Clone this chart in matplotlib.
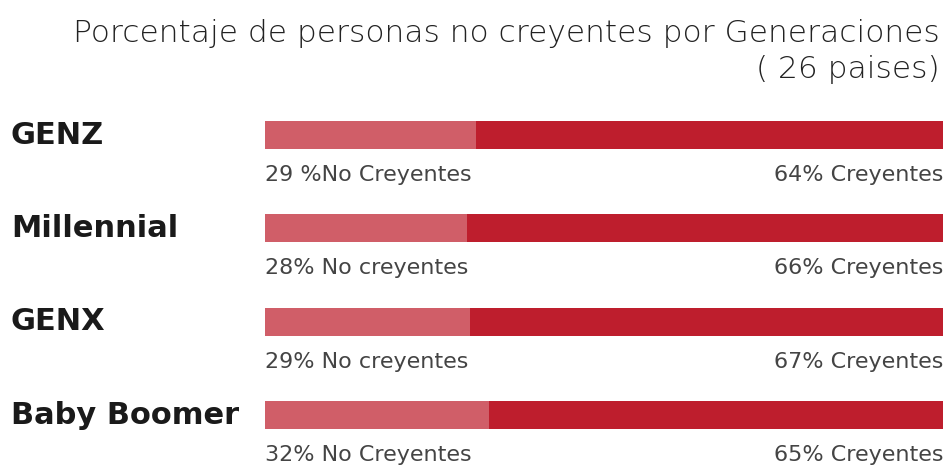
import matplotlib
matplotlib.use('Agg')
import matplotlib.pyplot as plt
import matplotlib.transforms as mtransforms

generaciones = ['GENZ', 'Millennial', 'GENX', 'Baby Boomer']
no_creyentes = [29, 28, 29, 32]
creyentes = [64, 66, 67, 65]
etiquetas_no = ['29 %No Creyentes', '28% No creyentes', '29% No creyentes', '32% No Creyentes']
etiquetas_si = ['64% Creyentes', '66% Creyentes', '67% Creyentes', '65% Creyentes']

color_no = '#D05E68'
color_si = '#BE1E2D'

fig = plt.figure(figsize=(9.48, 4.69), dpi=100)
ax = fig.add_axes([265 / 948, 0.0156, 678 / 948, 0.796])

for i, (n, c) in enumerate(zip(no_creyentes, creyentes)):
    total = n + c
    ax.barh(i, n / total, left=0, height=0.30, color=color_no)
    ax.barh(i, c / total, left=n / total, height=0.30, color=color_si)
    ax.text(0, i + 0.43, etiquetas_no[i], ha='left', va='center',
            fontsize=16, color='#444444', family='DejaVu Sans')
    ax.text(1, i + 0.43, etiquetas_si[i], ha='right', va='center',
            fontsize=16, color='#444444', family='DejaVu Sans')

trans = mtransforms.blended_transform_factory(fig.transFigure, ax.transData)
for i, g in enumerate(generaciones):
    ax.text(11 / 948, i, g, transform=trans, ha='left', va='center',
            fontsize=22, fontweight='bold', color='#1a1a1a', family='DejaVu Sans')

ax.set_xlim(0, 1)
ax.set_ylim(3.5, -0.5)
ax.axis('off')

fig.text(940 / 948, 1 - 33 / 469, 'Porcentaje de personas no creyentes por Generaciones',
         ha='right', va='center', fontsize=22.5, color='#222222', family='DejaVu Sans', fontweight='light')
fig.text(940 / 948, 1 - 69 / 469, '( 26 paises)',
         ha='right', va='center', fontsize=22.5, color='#222222', family='DejaVu Sans', fontweight='light')

fig.savefig('out.png', dpi=100)
